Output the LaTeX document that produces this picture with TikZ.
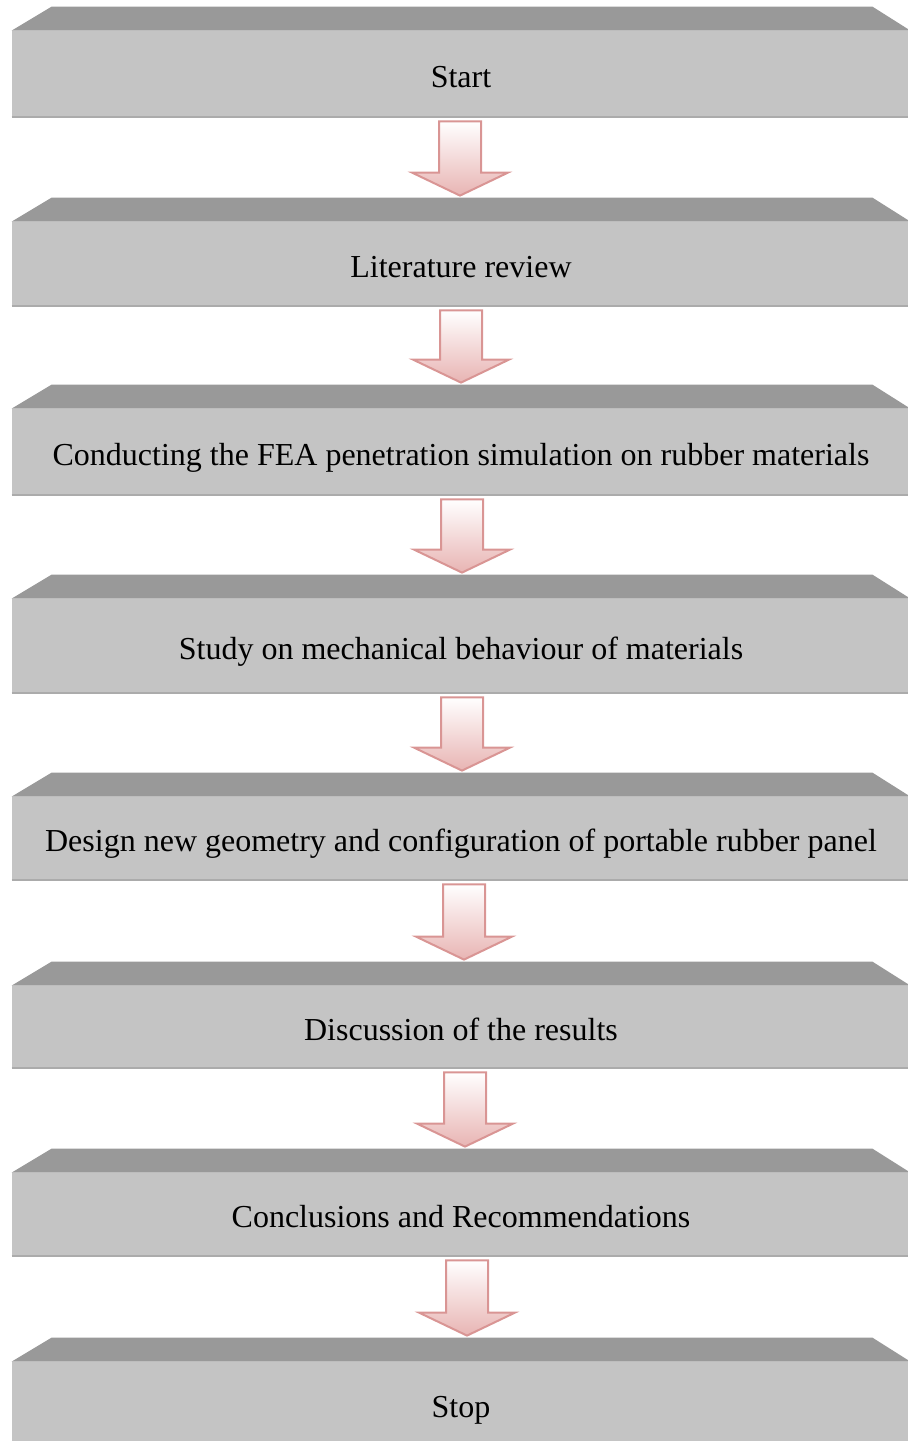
\documentclass[tikz,border=0pt]{standalone}
\usepackage{fontspec}
\setmainfont{Liberation Serif}
\usetikzlibrary{calc}

\definecolor{panelgray}{HTML}{C4C4C4}
\definecolor{bevelgray}{HTML}{999999}
\definecolor{edgegray}{HTML}{ABABAB}
\definecolor{arrowline}{HTML}{D99594}
\definecolor{arrowfill}{HTML}{E8B4B3}
\definecolor{arrowshadow}{HTML}{BC9A9A}

% outline of a block arrow between (t) and tip (h)
\newcommand{\arrowshape}{($(t)+(-21,0)$) -- ($(t)+(21,0)$) -- ($(h)+(21,-23)$) -- ($(h)+(48,-23)$) -- (h) -- ($(h)+(-48,-23)$) -- ($(h)+(-21,-23)$) -- cycle}
% from box, to box, sideways shift
\newcommand{\flowarrow}[3]{
    \coordinate (t) at ($(#1.south)+(#3,4)$);
    \coordinate (h) at ($(#2.north)+(#3,-26)$);
    \fill [color = arrowshadow, opacity = 0.75, shift = {(3,3)}] \arrowshape;
    \draw [color = arrowline, line width = 1pt, top color = white, bottom color = arrowfill] \arrowshape;
}

\begin{document}
\begin{tikzpicture}[x = 0.5pt, y = -0.5pt,
        panel/.style = {fill = panelgray, minimum width = 449pt, inner sep = 0pt, text height = 14pt, text depth = 1pt, font = \fontsize{16}{18}\selectfont}]
        \useasboundingbox (0,0) rectangle (908,1441);
        \node [panel, minimum height = 43pt] (start) at (461,74) {Start};
        \node [panel, minimum height = 42pt] (review) at (461,264) {Literature review};
        \node [panel, minimum height = 43pt] (fea) at (461,452) {Conducting the FEA penetration simulation on rubber materials};
        \node [panel, minimum height = 47pt] (study) at (461,646) {Study on mechanical behaviour of materials};
        \node [panel, minimum height = 41.5pt] (design) at (461,838.5) {Design new geometry and configuration of portable rubber panel};
        \node [panel, minimum height = 41pt] (discuss) at (461,1027) {Discussion of the results};
        \node [panel, minimum height = 41.5pt] (concl) at (461,1214.5) {Conclusions and Recommendations};
        \node [panel, minimum height = 42pt] (stop) at (461,1404) {Stop};
        % bevelled tops and bottom edges
        \foreach \n in {start,review,fea,study,design,discuss,concl,stop} {
            \fill [color = bevelgray] (\n.north west) -- ++(40,-24) -- ($(\n.north east)+(-38,-24)$) -- (\n.north east) -- cycle;
            \draw [color = edgegray, line width = 1pt] (\n.south west) -- (\n.south east);
        }
        % arrows
        \flowarrow{start}{review}{-1}
        \flowarrow{review}{fea}{0}
        \flowarrow{fea}{study}{1}
        \flowarrow{study}{design}{1}
        \flowarrow{design}{discuss}{3}
        \flowarrow{discuss}{concl}{4}
        \flowarrow{concl}{stop}{6}
    \end{tikzpicture}
\end{document}
